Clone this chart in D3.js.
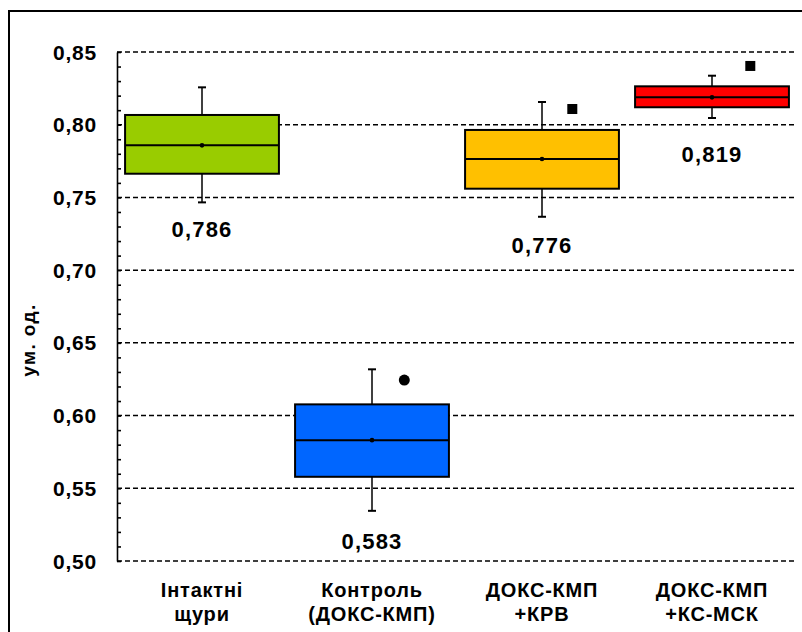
<!DOCTYPE html>
<meta charset="utf-8">
<script src="https://d3js.org/d3.v7.min.js"></script>
<style>
  body { margin: 0; background: #fff; }
  text { font-family: Arial, "Liberation Sans", sans-serif; font-weight: bold; fill: #000; }
</style>
<div id="chart"></div>
<script>
// data
var groups = ["Інтактні щури", "Контроль (ДОКС-КМП)", "ДОКС-КМП +КРВ", "ДОКС-КМП +КС-МСК"];
var groupLines = [["Інтактні", "щури"], ["Контроль", "(ДОКС-КМП)"], ["ДОКС-КМП", "+КРВ"], ["ДОКС-КМП", "+КС-МСК"]];
var whiskerLow = [0.7466, 0.5345, 0.7367, 0.8046];
var boxLow = [0.7663, 0.5579, 0.7560, 0.8120];
var medians = [0.7858, 0.5831, 0.7764, 0.8188];
var boxHigh = [0.8067, 0.6077, 0.7964, 0.8264];
var whiskerHigh = [0.8257, 0.6318, 0.8156, 0.8337];
var outliers = [null, 0.6244, 0.8108, 0.8404];
var outlierShape = [null, "circle", "square", "square"];
var meanLabels = [0.786, 0.583, 0.776, 0.819];
var colors = ["#99CC00", "#0066FF", "#FFC000", "#FF0000"];
var yTicks = [0.50, 0.55, 0.60, 0.65, 0.70, 0.75, 0.80, 0.85];

var W = 802, H = 632;
var svg = d3.select("#chart").append("svg")
  .attr("width", W).attr("height", H);

// outer frame (runs off the right and bottom edge)
svg.append("rect")
  .attr("x", 9).attr("y", 11)
  .attr("width", W + 20).attr("height", H + 20)
  .attr("fill", "none").attr("stroke", "#000").attr("stroke-width", 2);

var x = d3.scaleBand().domain(groups).range([117, 797]);
var y = d3.scaleLinear().domain([0.50, 0.85]).range([561, 52]);
var fmt = function (v, n) { return d3.format("." + n + "f")(v).replace(".", ","); };

// dashed gridlines
svg.append("g").selectAll("line").data(yTicks).enter().append("line")
  .attr("x1", 117).attr("x2", 797)
  .attr("y1", function (d) { return y(d); }).attr("y2", function (d) { return y(d); })
  .attr("stroke", "#000").attr("stroke-width", 1.5).attr("stroke-dasharray", "5,3");

// y axis with minor ticks pointing inward
var yAxis = svg.append("g")
  .attr("transform", "translate(117,0)")
  .call(d3.axisRight(y).ticks(35).tickSize(4).tickSizeOuter(0).tickFormat(""));
yAxis.selectAll("line, path").attr("stroke", "#000").attr("stroke-width", 1.6);

svg.append("g").selectAll("text").data(yTicks).enter().append("text")
  .attr("x", 97).attr("y", function (d) { return y(d) + 7.5; })
  .attr("text-anchor", "end").style("font-size", "21px").style("letter-spacing", "0.8px")
  .text(function (d) { return fmt(d, 2); });

svg.append("text")
  .attr("transform", "translate(35,340) rotate(-90)")
  .attr("text-anchor", "middle").style("font-size", "19px").style("letter-spacing", "1.4px")
  .text("ум. од.");

// boxes
var bw = x.bandwidth() * 0.905;
var g = svg.append("g").selectAll("g").data(groups).enter().append("g")
  .attr("transform", function (d) { return "translate(" + (x(d) + x.bandwidth() / 2) + ",0)"; });

g.append("line")
  .attr("y1", function (d, i) { return y(whiskerLow[i]); })
  .attr("y2", function (d, i) { return y(whiskerHigh[i]); })
  .attr("stroke", "#000").attr("stroke-width", 1.5);
[whiskerLow, whiskerHigh].forEach(function (arr) {
  g.append("line")
    .attr("x1", -4).attr("x2", 4)
    .attr("y1", function (d, i) { return y(arr[i]); })
    .attr("y2", function (d, i) { return y(arr[i]); })
    .attr("stroke", "#000").attr("stroke-width", 2);
});

g.append("rect")
  .attr("x", -bw / 2).attr("width", bw)
  .attr("y", function (d, i) { return y(boxHigh[i]); })
  .attr("height", function (d, i) { return y(boxLow[i]) - y(boxHigh[i]); })
  .attr("fill", function (d, i) { return colors[i]; })
  .attr("stroke", "#000").attr("stroke-width", 2);

g.append("line")
  .attr("x1", -bw / 2).attr("x2", bw / 2)
  .attr("y1", function (d, i) { return y(medians[i]); })
  .attr("y2", function (d, i) { return y(medians[i]); })
  .attr("stroke", "#000").attr("stroke-width", 2);

g.append("circle")
  .attr("cy", function (d, i) { return y(medians[i]); })
  .attr("r", 2.3).attr("fill", "#000");

// outliers
var ox = x.bandwidth() * 0.19;
g.filter(function (d, i) { return outlierShape[i] === "circle"; })
  .append("circle")
  .attr("cx", ox)
  .attr("cy", function (d) { return y(outliers[groups.indexOf(d)]); })
  .attr("r", 5.5).attr("fill", "#000");
g.filter(function (d, i) { return outlierShape[i] === "square"; })
  .append("rect")
  .attr("x", function (d) { return ox - 5 + (groups.indexOf(d) === 3 ? 6 : -2); })
  .attr("y", function (d) { return y(outliers[groups.indexOf(d)]) - 5; })
  .attr("width", 10).attr("height", 10).attr("fill", "#000");

// value labels below lower whisker
var labelGap = [35, 38, 36, 44];
g.append("text")
  .attr("y", function (d, i) { return y(whiskerLow[i]) + labelGap[i]; })
  .attr("text-anchor", "middle").style("font-size", "22px").style("letter-spacing", "1.2px")
  .text(function (d, i) { return fmt(meanLabels[i], 3); });

// category labels
g.each(function (d, i) {
  var t = d3.select(this).append("text")
    .attr("text-anchor", "middle").style("font-size", "20px").style("letter-spacing", "0.8px");
  groupLines[i].forEach(function (s, k) {
    t.append("tspan").attr("x", 0).attr("y", 597 + k * 24).text(s);
  });
});
</script>
